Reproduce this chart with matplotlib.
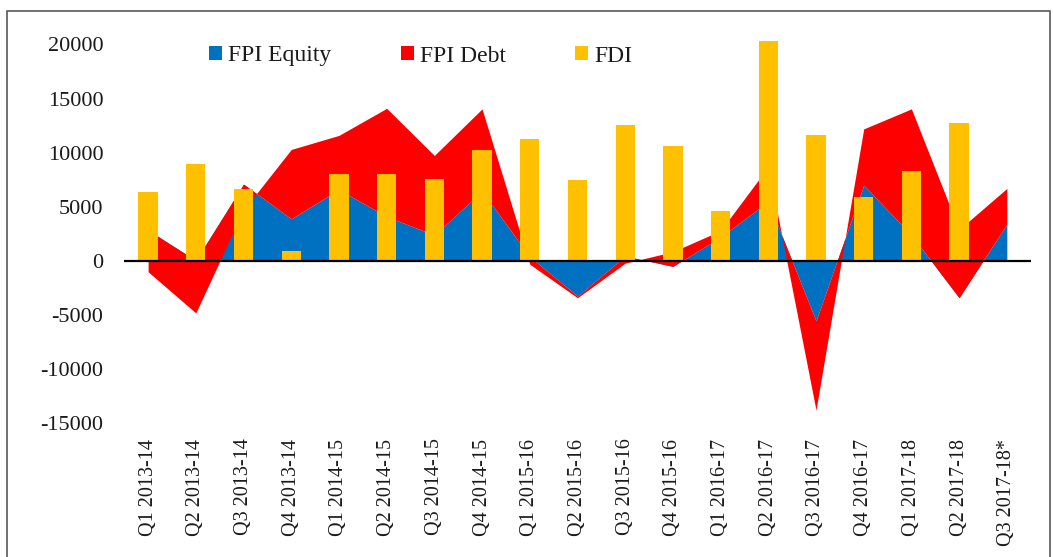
import numpy as np
import matplotlib
matplotlib.use('Agg')
import matplotlib.pyplot as plt
from matplotlib.patches import Patch, Rectangle

quarters = ["Q1 2013-14", "Q2 2013-14", "Q3 2013-14", "Q4 2013-14",
            "Q1 2014-15", "Q2 2014-15", "Q3 2014-15", "Q4 2014-15",
            "Q1 2015-16", "Q2 2015-16", "Q3 2015-16", "Q4 2015-16",
            "Q1 2016-17", "Q2 2016-17", "Q3 2016-17", "Q4 2016-17",
            "Q1 2017-18", "Q2 2017-18", "Q3 2017-18*"]

fpi_equity = [2850, 50, 7100, 3900, 6600, 4100, 2400, 6450, 400, -3250,
              450, -500, 2200, 5500, -5530, 7000, 2400, -3400, 3400]
fpi_debt = [-3850, -4850, -2400, 6400, 5000, 10000, 7350, 7600, -700, -150,
            -650, 1350, 600, 3200, -8240, 5200, 11650, 6300, 3300]
fdi = [6400, 8940, 6640, 960, 8060, 8060, 7600, 10270, 11310, 7500,
       12580, 10580, 4580, 20350, 11680, 5940, 8300, 12790, np.nan]

yticks = [-15000, -10000, -5000, 0, 5000, 10000, 15000, 20000]

plt.rcParams['font.family'] = ['Liberation Serif', 'DejaVu Serif']

fig = plt.figure(figsize=(10.53, 5.57), dpi=100)
ax = fig.add_axes([0.118, 0.240, 0.8608, 0.6996])

x = np.arange(len(quarters))
eq = np.array(fpi_equity, dtype=float)
total = eq + np.array(fpi_debt, dtype=float)

# stacked areas the way Excel does it: equity from zero, debt on top of equity
ax.fill_between(x, 0, eq, color='#0070C0', lw=0, zorder=1)
ax.fill_between(x, eq, total, color='#FF0000', lw=0, zorder=2)
ax.bar(x, fdi, width=0.405, color='#FFC000', zorder=3)
ax.axhline(0, color='black', lw=1.6, zorder=4)

ax.set_xlim(-0.5, len(quarters) - 0.5)
ax.set_ylim(-15000, 21000)
ax.set_yticks(yticks)
ax.set_yticklabels([str(v) for v in yticks])
ax.set_xticks(x)
ax.set_xticklabels(quarters, rotation=90, fontsize=14.5)
ax.tick_params(axis='y', length=0, labelsize=16, pad=15, colors='#1a1a1a')
ax.tick_params(axis='x', length=0, pad=11, colors='#1a1a1a')
for s in ax.spines.values():
    s.set_visible(False)

handles = [Patch(facecolor='#0070C0', edgecolor='none'),
           Patch(facecolor='#FF0000', edgecolor='none'),
           Patch(facecolor='#FFC000', edgecolor='none')]
fig.legend(handles, ["FPI Equity", "FPI Debt", "FDI"], loc='center left',
           bbox_to_anchor=(209 / 1053, 1 - 56 / 557), ncol=3, frameon=False,
           fontsize=17, handlelength=0.55, handleheight=0.55, handletextpad=0.25,
           columnspacing=2.95, borderpad=0, borderaxespad=0,
           labelcolor='#1a1a1a')

# outer chart border
fig.patches.append(Rectangle((6.5 / 1053, -0.02), (1050 - 6.5) / 1053, 1.02 - 11 / 557,
                             transform=fig.transFigure, fill=False,
                             edgecolor='#595959', lw=1.2))

fig.savefig("out.png", dpi=100)
